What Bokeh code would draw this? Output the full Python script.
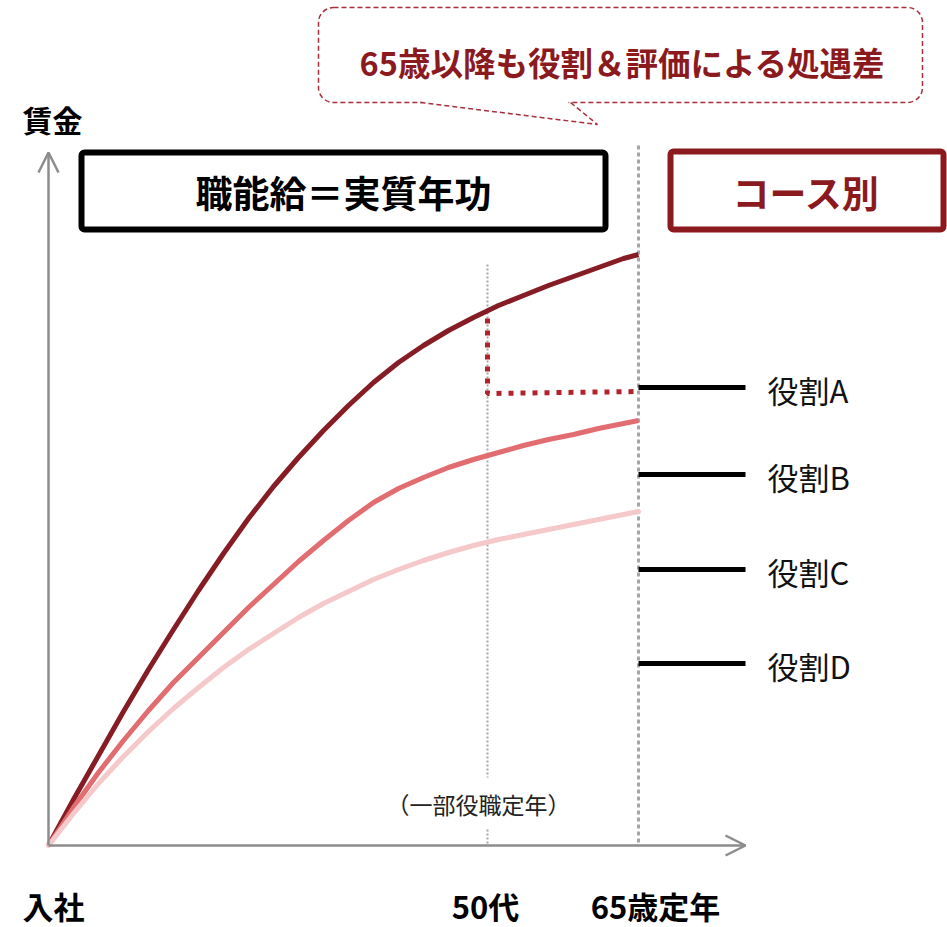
from bokeh.plotting import figure
from bokeh.models import Range1d, BoxAnnotation, Arrow, OpenHead, Label, ColumnDataSource
from bokeh.core.properties import value
from bokeh.embed import file_html
from bokeh.resources import INLINE

FONT = "Noto Sans CJK JP"

# ---- data (career position on x, wage level on y; units) ----
career = [0, 25, 50, 75, 100, 125, 150, 175, 200, 225, 250, 275, 300, 325, 350,
          375, 400, 425, 450, 475, 500, 525, 550, 575, 590]
wage_top = [0, 46, 90, 134, 176, 216, 255, 292, 327, 359, 388, 415, 440, 463, 483,
            500, 515, 528, 540, 550, 560, 569, 578, 587, 591]
wage_mid = [0, 38, 73, 105, 135, 163, 188, 213, 238, 261, 284, 305, 325, 343, 357,
            368, 378, 386, 393, 400, 406, 411, 417, 422, 425]
wage_low = [0, 32, 62, 89, 114, 137, 158, 178, 196, 212, 228, 242, 254, 266, 276,
            285, 293, 300, 306, 311, 316, 321, 326, 331, 334]

x_50 = 439          # 50代 (一部役職定年)
x_65 = 590          # 65歳定年
x_role_end = 697
drop_from = 527     # wage just under the top curve at 50代
drop_to = 452       # level after 役職定年
drop_end = 454

roles = ["役割A", "役割B", "役割C", "役割D"]
role_y = [458, 371, 276, 182]

x_labels = ["入社", "50代", "65歳定年"]
y_label = "賃金"

# ---- figure ----
p = figure(width=947, height=927, x_range=Range1d(-48, 899), y_range=Range1d(-82, 845),
           x_axis_type=None, y_axis_type=None, toolbar_location=None,
           output_backend="svg", min_border=0)
p.outline_line_color = None
p.grid.visible = False
p.background_fill_color = "white"
p.border_fill_color = "white"

axis_col = "#8C8C8C"
dark = "#861C24"
mid = "#E26D70"
light = "#F5C8C9"
red_dot = "#B1232B"
callout_col = "#A8303A"

# guides
p.line([x_50, x_50], [581, 68], line_color="#A6A6A6", line_width=2, line_dash="2 2")
p.line([x_50, x_50], [16, 0], line_color="#A6A6A6", line_width=2, line_dash="2 2")
p.line([x_65, x_65], [700, 0], line_color="#A6A6A6", line_width=3, line_dash="4 3")

# axes with arrows
p.add_layout(Arrow(end=OpenHead(size=20, line_color=axis_col, line_width=2.5),
                   x_start=0, y_start=0, x_end=0, y_end=693,
                   line_color=axis_col, line_width=2.5))
p.add_layout(Arrow(end=OpenHead(size=20, line_color=axis_col, line_width=2.5),
                   x_start=0, y_start=0, x_end=697, y_end=0,
                   line_color=axis_col, line_width=2.5))

# curves
p.line(career, wage_top, line_color=dark, line_width=5, line_join="round")
p.line(career, wage_mid, line_color=mid, line_width=5, line_join="round")
p.line(career, wage_low, line_color=light, line_width=5, line_join="round", line_cap="round")

# drop at 50代
p.line([x_50, x_50, x_65], [drop_from, drop_to, drop_end], line_color=red_dot,
       line_width=5, line_dash="5 7")

# role levels
src = ColumnDataSource(dict(x0=[x_65] * 4, x1=[x_role_end] * 4, y=role_y,
                            lx=[719] * 4, ly=[v - 2 for v in role_y], t=roles))
p.segment(x0="x0", y0="y", x1="x1", y1="y", source=src, line_color="black", line_width=5)
p.text(x="lx", y="ly", text="t", source=src, text_font=value(FONT), text_font_size="31px",
       text_align="left", text_baseline="middle", text_color="#111111")

# boxes
p.add_layout(BoxAnnotation(left=33, right=557, top=693, bottom=616, fill_color="white",
                           fill_alpha=1, line_color="black", line_alpha=1, line_width=6,
                           border_radius=3))
p.add_layout(BoxAnnotation(left=622, right=895, top=694, bottom=616, fill_color="white",
                           fill_alpha=1, line_color="#8B1A1F", line_alpha=1, line_width=6,
                           border_radius=3))
p.add_layout(Label(x=295, y=654, text="職能給＝実質年功", text_font=FONT, text_font_size="37px",
                   text_font_style="bold", text_align="center", text_baseline="middle",
                   text_color="black"))
p.add_layout(Label(x=758, y=654, text="コース別", text_font=FONT, text_font_size="37px",
                   text_font_style="bold", text_align="center", text_baseline="middle",
                   text_color="#8B1A1F"))

# callout
call = BoxAnnotation(left=270, right=874, top=838, bottom=743, fill_color="white", fill_alpha=1,
                     line_color=callout_col, line_alpha=1, line_width=1.5, line_dash="5 3",
                     border_radius=15, level="underlay")
p.add_layout(call)
p.line([374, 520], [743, 743], line_color="white", line_width=4)
p.line([372, 549, 522], [743, 721, 743], line_color=callout_col, line_width=1.5, line_dash="5 3")
p.add_layout(Label(x=574, y=784, text="65歳以降も役割＆評価による処遇差", text_font=FONT,
                   text_font_size="32.5px", text_font_style="bold", text_align="center",
                   text_baseline="middle", text_color="#8B1A1F"))

# axis labels
p.add_layout(Label(x=-26, y=727, text=y_label, text_font=FONT, text_font_size="30px",
                   text_font_style="bold", text_align="left", text_baseline="middle",
                   text_color="black"))
p.add_layout(Label(x=-26, y=-60, text=x_labels[0], text_font=FONT, text_font_size="31px",
                   text_font_style="bold", text_align="left", text_baseline="middle",
                   text_color="black"))
p.add_layout(Label(x=x_50 - 2, y=-60, text=x_labels[1], text_font=FONT, text_font_size="31px",
                   text_font_style="bold", text_align="center", text_baseline="middle",
                   text_color="black"))
p.add_layout(Label(x=x_65 + 17, y=-60, text=x_labels[2], text_font=FONT, text_font_size="31px",
                   text_font_style="bold", text_align="center", text_baseline="middle",
                   text_color="black"))
p.add_layout(Label(x=x_50 - 9, y=42, text="（一部役職定年）", text_font=FONT, text_font_size="23px",
                   text_align="center", text_baseline="middle", text_color="#222222"))

open("out.html", "w").write(file_html(p, INLINE))
